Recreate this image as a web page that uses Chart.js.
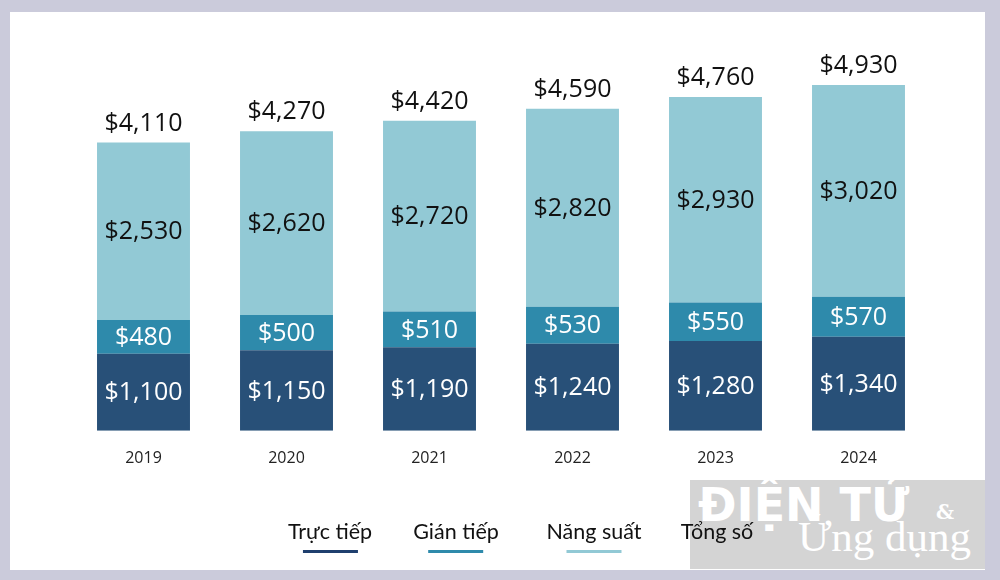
<!DOCTYPE html>
<html>
<head>
<meta charset="utf-8">
<script src="https://cdn.jsdelivr.net/npm/chart.js@4.4.1/dist/chart.umd.min.js"></script>
<style>
  body { margin: 0; width: 1000px; height: 580px; background: #cbcbdb; position: relative; overflow: hidden; }
  #panel { position: absolute; left: 10px; top: 12px; width: 975px; height: 558px; background: #fff; }
  #wrap { position: absolute; left: 0; top: 0; width: 1000px; height: 580px; }
  #wm { position: absolute; left: 690px; top: 480px; width: 295px; height: 89px; background: rgba(205,205,205,0.85); overflow: hidden; white-space: nowrap; }
  #wm .t1 { position: absolute; left: 8px; top: -2px; font: bold 46px "DejaVu Sans"; color: #fff; }
  #wm .amp { position: absolute; left: 246px; top: 20px; font: bold 20px "DejaVu Serif"; color: #fff; }
  #wm .t2 { position: absolute; left: 108px; top: 32px; font: 43px "Liberation Serif"; color: #fff; }
  #legend .item { position: absolute; top: 518px; transform: translateX(-50%); white-space: nowrap; font: 21.5px Lato, sans-serif; color: #111; text-align: center; }
  #legend .item i { display: block; width: 55px; height: 3px; margin: 6px auto 0; }
</style>
</head>
<body>
<div id="panel"></div>
<div id="wm"><div class="t1">ĐIỆN TỬ</div><div class="amp">&amp;</div><div class="t2">Ứng dụng</div></div>
<div id="wrap"><canvas id="chart" width="1000" height="580"></canvas></div>
<div id="legend"></div>
<script>
// values
var years = ['2019', '2020', '2021', '2022', '2023', '2024'];
var direct = [1100, 1150, 1190, 1240, 1280, 1340];
var indirect = [480, 500, 510, 530, 550, 570];
var productivity = [2530, 2620, 2720, 2820, 2930, 3020];
var totals = [4110, 4270, 4420, 4590, 4760, 4930];

var seriesNames = ['Trực tiếp', 'Gián tiếp', 'Năng suất'];
var totalName = 'Tổng số';

var barColors = ['#285078', '#2e8aab', '#92c9d5'];
var lineColors = ['#1f3f6e', '#2e8aab', '#92c9d5'];
var textColors = ['#ffffff', '#ffffff', '#111111'];
var legendCenters = [330, 456, 594, 717];

function money(v) {
  return '$' + v.toLocaleString('en-US');
}

const barLabels = {
  id: 'barLabels',
  afterDatasetsDraw(chart) {
    const ctx = chart.ctx;
    ctx.save();
    ctx.textAlign = 'center';
    ctx.textBaseline = 'middle';
    ctx.font = '25px "Open Sans"';
    chart.data.datasets.forEach((ds, i) => {
      chart.getDatasetMeta(i).data.forEach((bar, j) => {
        ctx.fillStyle = textColors[i];
        ctx.fillText(money(ds.data[j]), bar.x, (bar.y + bar.base) / 2 + 1);
      });
    });
    // totals on top of the last stack
    const last = chart.getDatasetMeta(chart.data.datasets.length - 1);
    ctx.fillStyle = '#111';
    last.data.forEach((bar, j) => {
      ctx.fillText(money(totals[j]), bar.x, bar.y - 19);
    });
    ctx.restore();
  }
};

const data = {
  labels: years,
  datasets: [
    { label: seriesNames[0], data: direct, backgroundColor: barColors[0] },
    { label: seriesNames[1], data: indirect, backgroundColor: barColors[1] },
    { label: seriesNames[2], data: productivity, backgroundColor: barColors[2] }
  ]
};

new Chart(document.getElementById('chart'), {
  type: 'bar',
  data: data,
  plugins: [barLabels],
  options: {
    responsive: false,
    animation: false,
    layout: {
      padding: { left: 72, right: 70, top: 38, bottom: 94 }
    },
    datasets: {
      bar: { barPercentage: 0.65, categoryPercentage: 1, borderWidth: 0 }
    },
    scales: {
      x: {
        stacked: true,
        border: { display: false },
        grid: { display: false, drawTicks: false },
        ticks: { color: '#222', padding: 18, font: { family: 'Open Sans', size: 16 } }
      },
      y: {
        stacked: true,
        display: false,
        min: 0,
        max: 5600
      }
    },
    plugins: {
      legend: { display: false },
      tooltip: { enabled: false }
    }
  }
});

// legend: text with a short colour line underneath
var legend = document.getElementById('legend');
seriesNames.concat([totalName]).forEach(function (name, i) {
  var item = document.createElement('div');
  item.className = 'item';
  item.style.left = legendCenters[i] + 'px';
  item.textContent = name;
  var line = document.createElement('i');
  line.style.background = lineColors[i] || 'transparent';
  item.appendChild(line);
  legend.appendChild(item);
});
</script>
</body>
</html>
